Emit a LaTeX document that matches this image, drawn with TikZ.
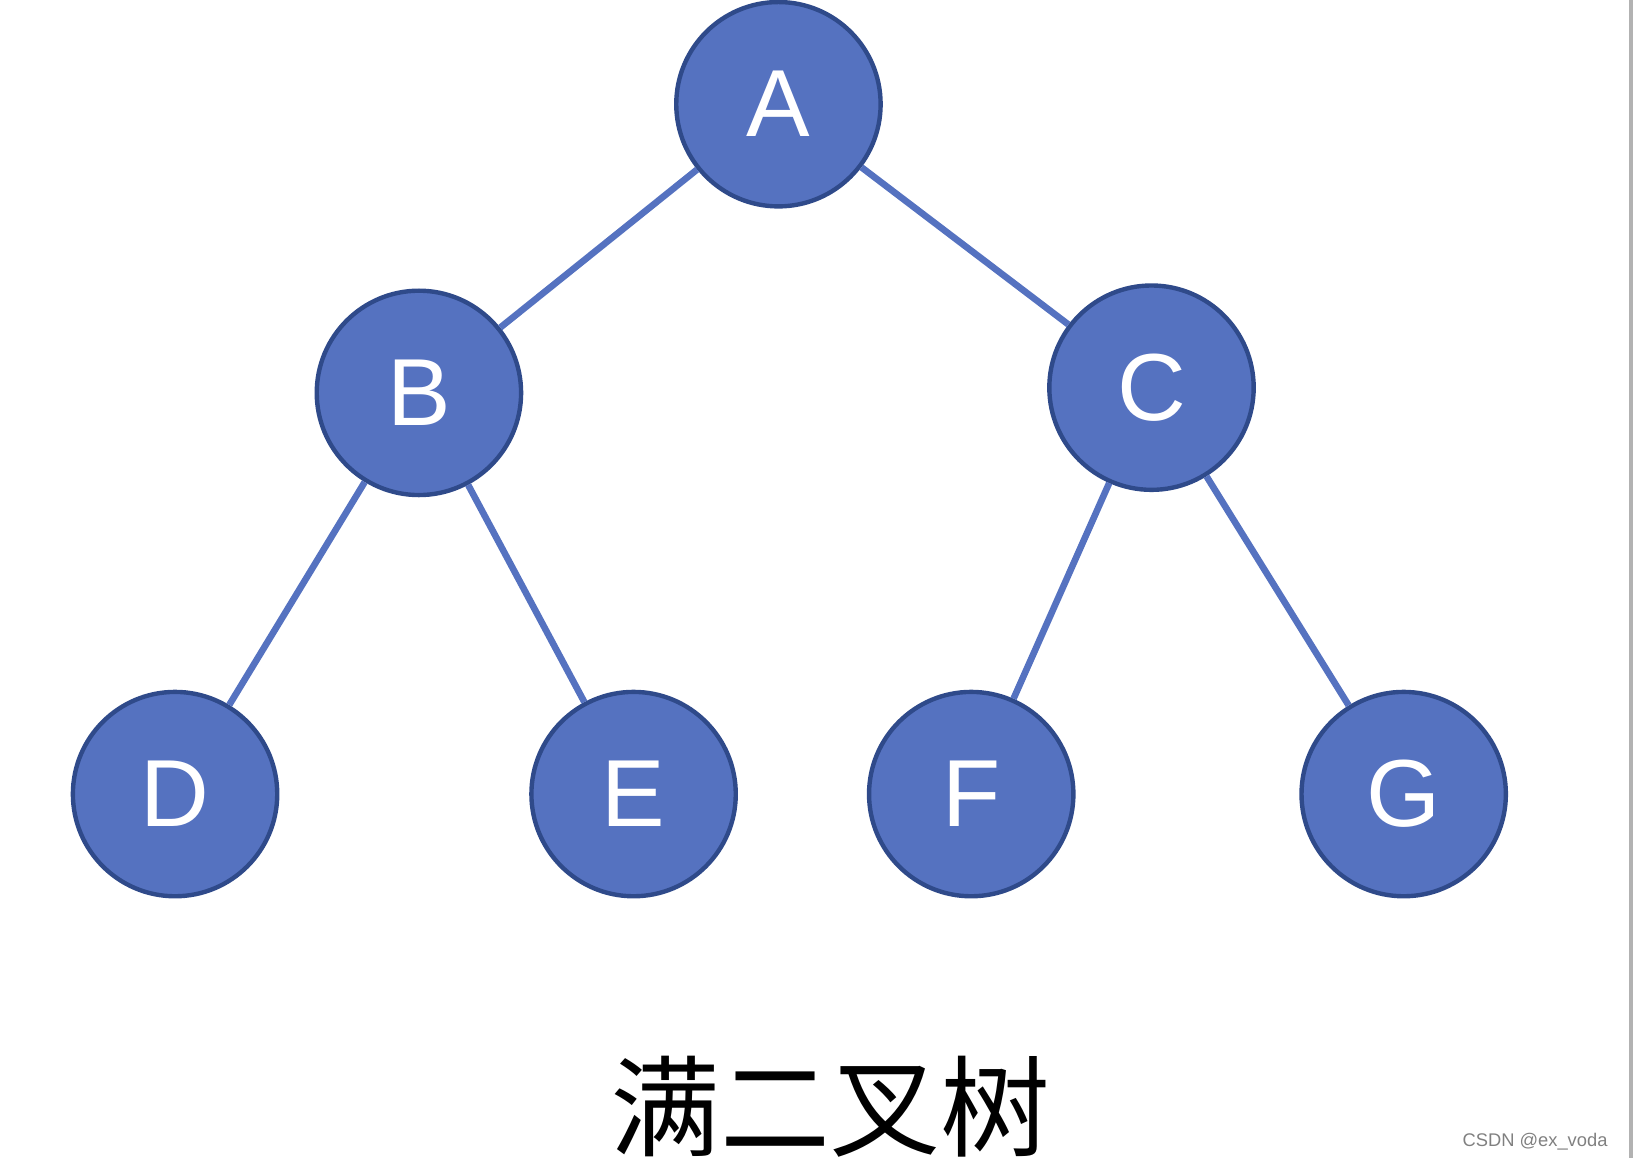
\documentclass[tikz,border=0pt]{standalone}
\usepackage{fontspec}
\setsansfont{Liberation Sans}
\newfontfamily\cjk{Noto Sans CJK SC}
\usetikzlibrary{positioning}

\definecolor{nodeblue}{HTML}{5572C0}
\definecolor{rimblue}{HTML}{2F4A8A}

\tikzset{
  treenode/.style={circle, fill=nodeblue, draw=rimblue, line width=1.2pt,
    minimum size=1.96cm, inner sep=0pt, text=white,
    font=\sffamily\fontsize{26}{26}\selectfont},
  branch/.style={draw=nodeblue, line width=1.8pt},
}

\begin{document}
\begin{tikzpicture}[x=0.01cm, y=-0.01cm]
    \useasboundingbox (0,0) rectangle (1568,1111);
    \draw [gray!60, line width=1pt] (1565,0) -- (1565,1111);

    % levels of the tree
    \node [treenode] (A) at (747,100) {A};
    \node [treenode] (B) at (402,377) {B};
    \node [treenode] (C) at (1105,372) {C};
    \node [treenode] (D) at (168,762) {D};
    \node [treenode] (E) at (608,762) {E};
    \node [treenode] (F) at (932,762) {F};
    \node [treenode] (G) at (1347,762) {G};

    \begin{scope}[on background layer/.style={}]
      \path [branch] (A) -- (B);
      \path [branch] (A) -- (C);
      \path [branch] (B) -- (D);
      \path [branch] (B) -- (E);
      \path [branch] (C) -- (F);
      \path [branch] (C) -- (G);
    \end{scope}

    \node (caption) [font=\cjk\fontsize{30}{30}\selectfont] at (797,1062) {满二叉树};
    \node (mark) [font=\sffamily\fontsize{5}{5}\selectfont, text=gray, anchor=east]
      at (1555,1096) {CSDN @ex\_voda};
\end{tikzpicture}
\end{document}
